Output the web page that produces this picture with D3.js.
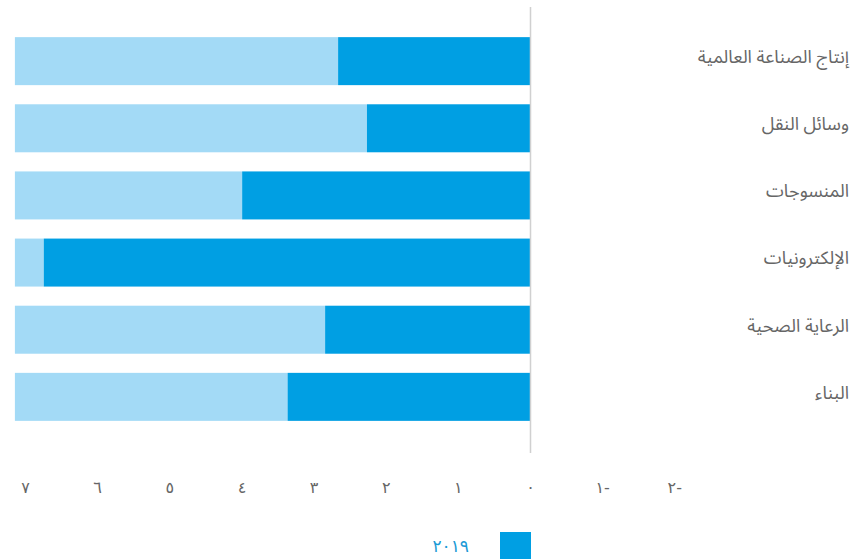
<!DOCTYPE html>
<html>
<head>
<meta charset="utf-8">
<script src="https://cdn.jsdelivr.net/npm/d3@7"></script>
<style>
  body { margin: 0; background: #fff; }
  svg { display: block; }
  .tick text { font-family: "DejaVu Sans", sans-serif; }
</style>
</head>
<body>
<svg width="852" height="559"></svg>
<script>
// categories, top to bottom
var sectors = ['إنتاج الصناعة العالمية', 'وسائل النقل', 'المنسوجات', 'الإلكترونيات', 'الرعاية الصحية', 'البناء']
// 2019 values (dark segment)
var values2019 = [2.66, 2.26, 3.99, 6.74, 2.84, 3.36]
// light background bar reaches the end of the scale
var barMax = [7.14, 7.14, 7.14, 7.14, 7.14, 7.14]
var tickValues = [7, 6, 5, 4, 3, 2, 1, 0, -1, -2]
var legendLabel = '٢٠١٩'

var svg = d3.select('svg')

var arDigits = '٠١٢٣٤٥٦٧٨٩'
function toArabic (n) {
  return String(n).split('').map(c => arDigits[+c] || c).join('')
}

// reversed axis: 0 on the right, 7 on the left
var xScale = d3.scaleLinear()
               .domain([0, 7])
               .range([530, 25])

var yScale = d3.scaleBand()
               .domain(sectors)
               .range([18, 440])
               .paddingInner(0.285)
               .paddingOuter(0.285)

var rows = sectors.map((s, i) => ({ name: s, val: values2019[i], max: barMax[i] }))

// light bars
svg.selectAll('.bg')
   .data(rows)
   .enter()
   .append('rect')
   .attr('class', 'bg')
   .attr('fill', '#a3daf6')
   .attr('x', d => xScale(d.max))
   .attr('width', d => xScale(d.val) - xScale(d.max))
   .attr('y', d => yScale(d.name))
   .attr('height', yScale.bandwidth())

// 2019 bars
svg.selectAll('.bar')
   .data(rows)
   .enter()
   .append('rect')
   .attr('class', 'bar')
   .attr('fill', '#009fe3')
   .attr('x', d => xScale(d.val))
   .attr('width', d => xScale(0) - xScale(d.val))
   .attr('y', d => yScale(d.name))
   .attr('height', yScale.bandwidth())

// zero line
svg.append('line')
   .attr('x1', xScale(0) + 0.5)
   .attr('x2', xScale(0) + 0.5)
   .attr('y1', 7)
   .attr('y2', 453)
   .attr('stroke', '#d0d0d0')
   .attr('stroke-width', 1.5)

// category labels on the right
svg.selectAll('.cat')
   .data(sectors)
   .enter()
   .append('text')
   .attr('class', 'cat')
   .attr('x', 849)
   .attr('y', d => yScale(d) + yScale.bandwidth() / 2)
   .attr('dy', '0.1em')
   .attr('text-anchor', 'end')
   .attr('font-family', '"Noto Sans Arabic", "DejaVu Sans", sans-serif')
   .attr('font-size', 18)
   .attr('fill', '#666')
   .text(d => d)

// x axis, no line or ticks
var xAxis = d3.axisBottom(xScale)
              .tickValues(tickValues)
              .tickSize(0)
              .tickPadding(0)
              .tickFormat(d => d < 0 ? toArabic(-d) + '-' : toArabic(d))

var gx = svg.append('g')
            .attr('transform', 'translate(0,482)')
            .call(xAxis)
gx.select('.domain').remove()
gx.selectAll('text')
  .attr('font-size', 16)
  .attr('fill', '#666')

// legend
svg.append('rect')
   .attr('x', 500)
   .attr('y', 532)
   .attr('width', 31)
   .attr('height', 30)
   .attr('fill', '#009fe3')

svg.append('text')
   .attr('x', 469)
   .attr('y', 546)
   .attr('dy', '0.35em')
   .attr('text-anchor', 'end')
   .attr('font-family', '"DejaVu Sans", sans-serif')
   .attr('font-size', 17)
   .attr('fill', '#1a9ad6')
   .text(legendLabel)
</script>
</body>
</html>
